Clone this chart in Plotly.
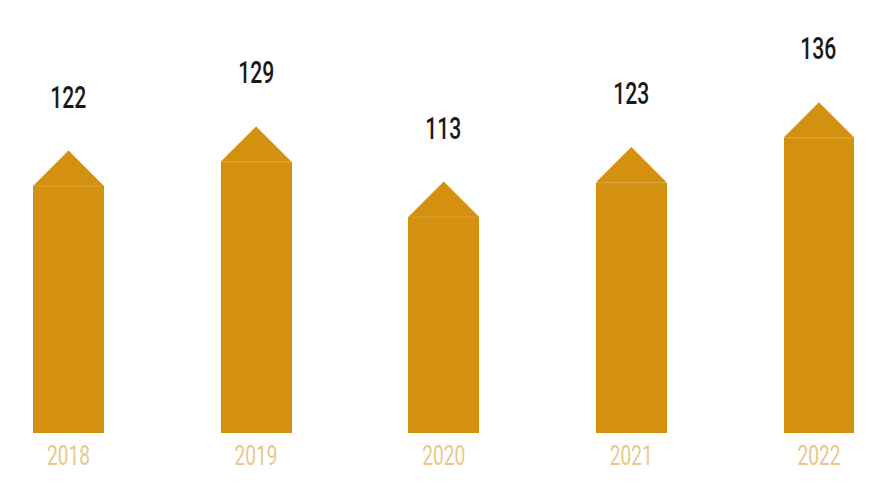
import plotly.graph_objects as go

# ---- data ----
years = ["2018", "2019", "2020", "2021", "2022"]
values = [122, 129, 113, 123, 136]

# ---- style ----
BAR_COLOR = "#D4900F"
SEAM_COLOR = "#DCA23A"
YEAR_COLOR = "#EBC68C"
VALUE_COLOR = "#1A1A1A"
FONT = "Roboto, Liberation Sans, sans-serif"

W, H = 880, 476          # page body has an 8px margin
M_T, M_B = 0, 51
X_RANGE = [-0.3225, 4.368]
Y_RANGE = [50.4, 173.6]
BAR_W = 0.378

x_pos = list(range(len(years)))
px_per_x = W / (X_RANGE[1] - X_RANGE[0])
px_per_y = (H - M_T - M_B) / (Y_RANGE[1] - Y_RANGE[0])
roof = (BAR_W / 2 * px_per_x) / px_per_y  # 45-degree roof in data units

fig = go.Figure()
fig.add_trace(go.Bar(
    x=x_pos, y=values, width=BAR_W,
    marker=dict(color=BAR_COLOR, line=dict(width=0)),
    hoverinfo="skip",
))

tx, ty, sx, sy = [], [], [], []
for xi, v in zip(x_pos, values):
    tx += [xi - BAR_W / 2, xi, xi + BAR_W / 2, xi - BAR_W / 2, None]
    ty += [v, v + roof, v, v, None]
    sx += [xi - BAR_W / 2 + 0.01, xi + BAR_W / 2 - 0.01, None]
    sy += [v, v, None]
fig.add_trace(go.Scatter(
    x=tx, y=ty, mode="lines", fill="toself", fillcolor=BAR_COLOR,
    line=dict(width=0, color=BAR_COLOR), hoverinfo="skip",
))
fig.add_trace(go.Scatter(
    x=sx, y=sy, mode="lines", line=dict(width=1, color=SEAM_COLOR),
    hoverinfo="skip",
))

for xi, v in zip(x_pos, values):
    fig.add_annotation(
        x=xi, y=v + roof, text=str(v), showarrow=False,
        yshift=54, yanchor="middle",
        font=dict(family=FONT, size=32, color=VALUE_COLOR, weight=500),
    )

fig.update_layout(
    width=W, height=H,
    margin=dict(l=0, r=0, t=M_T, b=M_B),
    paper_bgcolor="white", plot_bgcolor="white",
    showlegend=False, bargap=0,
    xaxis=dict(
        range=X_RANGE, tickmode="array", tickvals=x_pos, ticktext=years,
        tickfont=dict(family=FONT, size=27, color=YEAR_COLOR),
        showgrid=False, zeroline=False, showline=False, ticks="",
        ticklabelstandoff=4,
    ),
    yaxis=dict(range=Y_RANGE, visible=False, showgrid=False, zeroline=False),
)

# condensed look: squeeze glyphs horizontally (reference uses a narrow typeface)
post = """
function squeeze(){
  document.querySelectorAll('.annotation-text').forEach(function(t){
    t.setAttribute('textLength', 36);
    t.setAttribute('lengthAdjust', 'spacingAndGlyphs');
  });
  document.querySelectorAll('g.xtick text').forEach(function(t){
    t.setAttribute('textLength', 43);
    t.setAttribute('lengthAdjust', 'spacingAndGlyphs');
  });
}
squeeze();
"""

fig.write_html("out.html", post_script=post)
